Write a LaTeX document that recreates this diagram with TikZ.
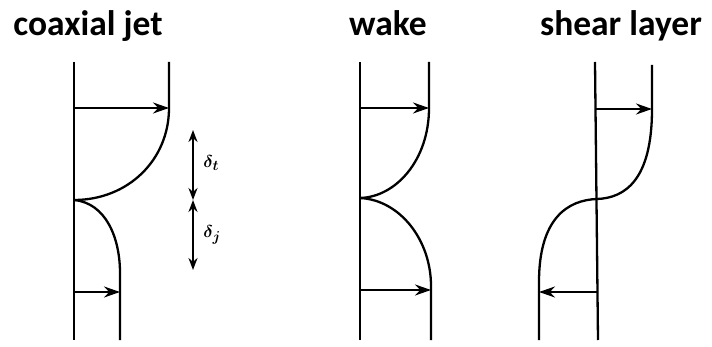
\documentclass[tikz,border=0pt]{standalone}
\usepackage{amsmath}
\usepackage{fontspec}
\setmainfont{Carlito}
\usetikzlibrary{arrows.meta}

\begin{document}
\begin{tikzpicture}[x=1pt, y=-1pt, line width=2.3pt,
    vel/.style={-{Stealth[length=16pt,width=11pt]}},
    dbl/.style={{Stealth[length=12pt,width=9pt]}-{Stealth[length=12pt,width=9pt]}, line width=1.9pt},
    ttl/.style={font=\fontsize{35.5}{38}\selectfont\bfseries, anchor=base},
    lbl/.style={font=\fontsize{19}{20}\selectfont, anchor=west}]
  \useasboundingbox (0,0) rectangle (712,347);

  % titles
  \node[ttl] (tj) at (88,36) {coaxial jet};
  \node[ttl] (tw) at (388,36) {wake};
  \node[ttl] (ts) at (621,36) {shear layer};

  % coaxial jet
  \coordinate (jt) at (74,62);
  \coordinate (jb) at (74,340);
  \coordinate (jm) at (74,200);
  \coordinate (jrt) at (169,62);
  \coordinate (jr) at (169,108);
  \coordinate (jc) at (120,273);
  \coordinate (jcb) at (120,340);
  \draw (jt) -- (jb);
  \draw (jrt) -- (jr) .. controls (169,160) and (128,200) .. (jm);
  \draw (jm) .. controls (106,203) and (120,238) .. (jc) -- (jcb);
  \draw[vel] (74,108) -- (jr);
  \draw[vel] (74,292) -- (120,292);
  % thicknesses
  \coordinate (d1) at (193,130);
  \coordinate (d2) at (193,200);
  \coordinate (d3) at (193,270);
  \draw[dbl] (d1) -- (d2);
  \draw[dbl] (d2) -- (d3);
  \node[lbl] (dt) at (199,163) {$\boldsymbol{\delta_t}$};
  \node[lbl] (dj) at (199,235) {$\boldsymbol{\delta_j}$};

  % wake
  \coordinate (wt) at (360,62);
  \coordinate (wb) at (360,340);
  \coordinate (wm) at (360,198);
  \coordinate (wrt) at (429,62);
  \coordinate (wr) at (429,108);
  \coordinate (wc) at (431,286);
  \coordinate (wcb) at (431,340);
  \draw (wt) -- (wb);
  \draw (wrt) -- (wr) .. controls (429,160) and (396,197) .. (wm);
  \draw (wm) .. controls (400,200) and (431,240) .. (wc) -- (wcb);
  \draw[vel] (360,108) -- (wr);
  \draw[vel] (360,290) -- (431,290);

  % shear layer
  \coordinate (st) at (595,62);
  \coordinate (sb) at (598,340);
  \coordinate (sm) at (597,199);
  \coordinate (srt) at (652,65);
  \coordinate (sr) at (652,109);
  \coordinate (sc) at (539,282);
  \coordinate (scb) at (539,340);
  \draw (st) -- (sb);
  \draw (srt) -- (sr) .. controls (652,180) and (625,198) .. (sm);
  \draw (sm) .. controls (568,200) and (539,218) .. (sc) -- (scb);
  \draw[vel] (595,109) -- (sr);
  \draw[vel] (598,292) -- (539,292);
\end{tikzpicture}
\end{document}
